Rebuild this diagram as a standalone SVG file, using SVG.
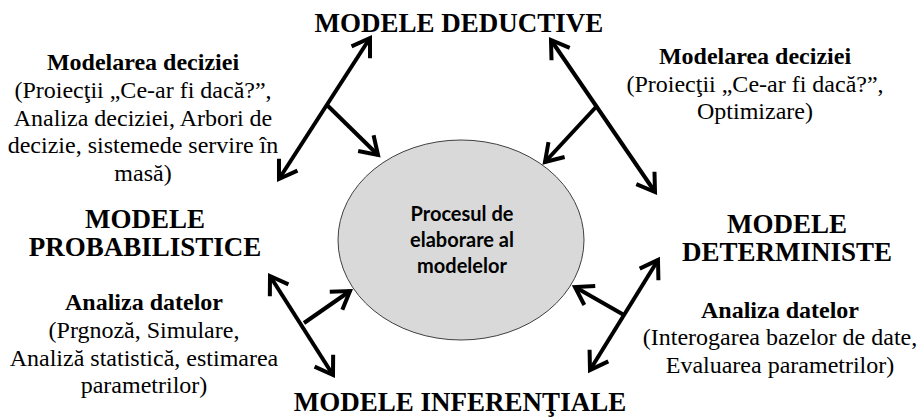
<svg xmlns="http://www.w3.org/2000/svg" width="920" height="417" viewBox="0 0 920 417">
<style>
.ttl{font-family:"Liberation Serif","Times New Roman",serif;font-weight:bold;font-size:27px;fill:#000;text-anchor:middle}
.hdr{font-family:"Liberation Serif","Times New Roman",serif;font-weight:bold;font-size:24px;fill:#000;text-anchor:middle}
.reg{font-family:"Liberation Serif","Times New Roman",serif;font-weight:400;font-size:24px;fill:#000;text-anchor:middle}
.ctr{font-family:Lato,"Open Sans",sans-serif;font-weight:bold;font-size:20px;fill:#000;text-anchor:middle}
.ln{stroke:#000;stroke-width:4;fill:none}
</style>
<defs>
<marker id="ah" viewBox="0 0 26 26" refX="20" refY="13" markerWidth="26" markerHeight="26" markerUnits="userSpaceOnUse" orient="auto-start-reverse">
<path d="M3,2 L20,13 L3,24" fill="none" stroke="#000" stroke-width="4" stroke-linejoin="miter"/>
</marker>
</defs>
<g id="center">
<ellipse cx="461" cy="240" rx="123" ry="100" fill="#d9d9d9" stroke="#404040" stroke-width="1"/>
<text class="ctr" x="462" y="221">Procesul de</text>
<text class="ctr" x="462" y="247">elaborare al</text>
<text class="ctr" x="462" y="273">modelelor</text>
</g>
<g id="deductive"><text class="ttl" x="459" y="32">MODELE DEDUCTIVE</text></g>
<g id="inferentiale"><text class="ttl" x="460" y="411">MODELE INFERENŢIALE</text></g>
<g id="probabilistice"><text class="ttl" x="145" y="228">MODELE</text><text class="ttl" x="145" y="256">PROBABILISTICE</text></g>
<g id="deterministe"><text class="ttl" x="787" y="233">MODELE</text><text class="ttl" x="787" y="261">DETERMINISTE</text></g>
<g id="label-tl">
<text class="hdr" x="143" y="70">Modelarea deciziei</text>
<text class="reg" x="143" y="98">(Proiecţii „Ce-ar fi dacă?”,</text>
<text class="reg" x="143" y="126">Analiza deciziei, Arbori de</text>
<text class="reg" x="143" y="153">decizie, sistemede servire în</text>
<text class="reg" x="143" y="181">masă)</text>
</g>
<g id="label-tr">
<text class="hdr" x="755" y="64">Modelarea deciziei</text>
<text class="reg" x="755" y="92">(Proiecţii „Ce-ar fi dacă?”,</text>
<text class="reg" x="755" y="119">Optimizare)</text>
</g>
<g id="label-bl">
<text class="hdr" x="144" y="310">Analiza datelor</text>
<text class="reg" x="144" y="338">(Prgnoză, Simulare,</text>
<text class="reg" x="144" y="366">Analiză statistică, estimarea</text>
<text class="reg" x="144" y="393">parametrilor)</text>
</g>
<g id="label-br">
<text class="hdr" x="780" y="318">Analiza datelor</text>
<text class="reg" x="780" y="345">(Interogarea bazelor de date,</text>
<text class="reg" x="780" y="373">Evaluarea parametrilor)</text>
</g>
<g id="connectors">
<line class="ln" x1="370" y1="38" x2="279" y2="179" marker-start="url(#ah)" marker-end="url(#ah)"/>
<line class="ln" x1="327" y1="105" x2="378" y2="155" marker-end="url(#ah)"/>
<line class="ln" x1="551" y1="40" x2="655" y2="192" marker-start="url(#ah)" marker-end="url(#ah)"/>
<line class="ln" x1="596" y1="107" x2="545" y2="162" marker-end="url(#ah)"/>
<line class="ln" x1="270" y1="276" x2="333" y2="375" marker-start="url(#ah)" marker-end="url(#ah)"/>
<line class="ln" x1="304" y1="323" x2="350" y2="291" marker-end="url(#ah)"/>
<line class="ln" x1="658" y1="260" x2="590" y2="370" marker-start="url(#ah)" marker-end="url(#ah)"/>
<line class="ln" x1="624" y1="315" x2="575" y2="287" marker-end="url(#ah)"/>
</g>
</svg>
